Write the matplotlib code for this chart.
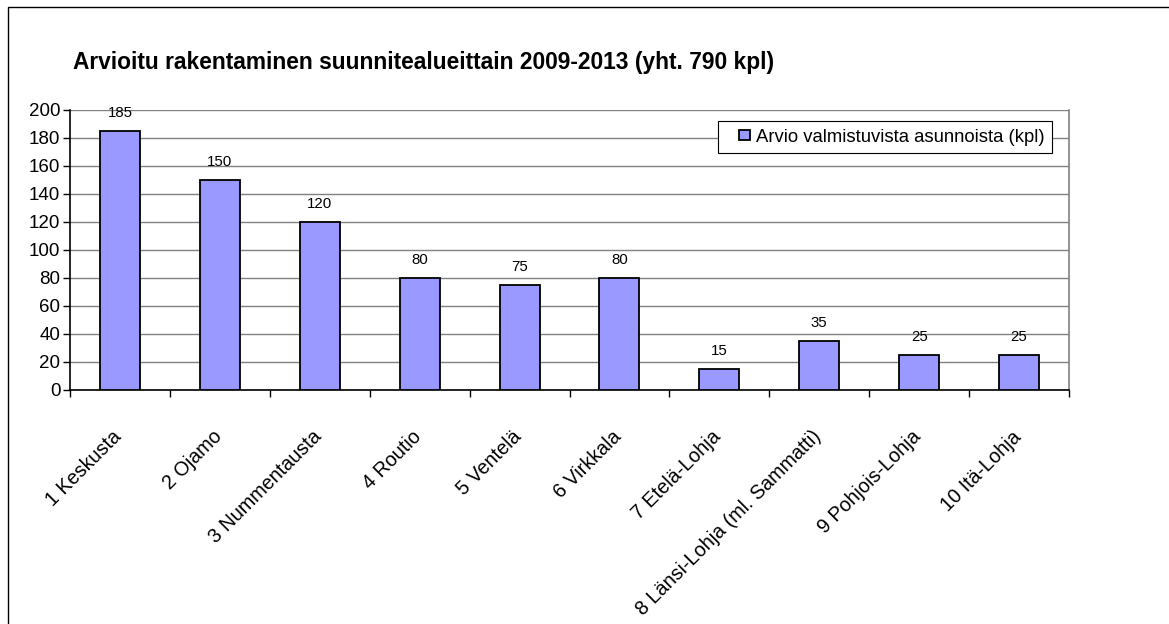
import matplotlib
matplotlib.use("Agg")
import matplotlib.pyplot as plt
from matplotlib.patches import Rectangle
from matplotlib.container import BarContainer
from matplotlib.legend_handler import HandlerPatch, update_from_first_child
from matplotlib.transforms import ScaledTranslation

plt.rcParams["font.family"] = ["Liberation Sans", "DejaVu Sans"]

# --- data ---
areas = [
    "1 Keskusta", "2 Ojamo", "3 Nummentausta", "4 Routio", "5 Ventelä",
    "6 Virkkala", "7 Etelä-Lohja", "8 Länsi-Lohja (ml. Sammatti)",
    "9 Pohjois-Lohja", "10 Itä-Lohja",
]
dwellings = [185, 150, 120, 80, 75, 80, 15, 35, 25, 25]
y_ticks = [0, 20, 40, 60, 80, 100, 120, 140, 160, 180, 200]
title = "Arvioitu rakentaminen suunnitealueittain 2009-2013 (yht. 790 kpl)"
series_name = "Arvio valmistuvista asunnoista (kpl)"

W, H = 1169, 624
fig = plt.figure(figsize=(W / 100, H / 100), dpi=100)

# outer chart frame (right/bottom edges fall outside the image)
fig.patches.append(Rectangle((8 / W, 1 - 7 / H), 2, -2, transform=fig.transFigure,
                             fill=False, edgecolor="black", linewidth=1.0))

# plot area in pixel coords: x 70..1069, y 110..390
ax = fig.add_axes([70 / W, 1 - 390 / H, 999 / W, 280 / H])

x = list(range(len(areas)))
ax.bar(x, dwellings, width=0.4, color="#9999ff", edgecolor="black",
       linewidth=1.3, zorder=3, label=series_name)

for xi, v in zip(x, dwellings):
    ax.annotate(str(v), (xi, v), xytext=(0, 8), textcoords="offset points",
                ha="center", va="bottom", fontsize=10.8, zorder=4)

ax.set_xlim(-0.5, len(areas) - 0.5)
ax.set_ylim(0, 200)
ax.set_yticks(y_ticks)
ax.tick_params(axis="y", labelsize=13.5, length=5, width=1, direction="out", pad=2)
ax.yaxis.grid(True, color="#808080", linewidth=1.0, zorder=0)
ax.set_axisbelow(True)

# category boundary ticks, labels at category centers
ax.set_xticks([i - 0.5 for i in range(len(areas) + 1)])
ax.set_xticklabels([])
ax.tick_params(axis="x", length=5, width=1, direction="out")
ax.set_xticks(x, minor=True)
ax.set_xticklabels(areas, minor=True, rotation=45, ha="right",
                   rotation_mode="anchor", fontsize=14.2)
ax.tick_params(axis="x", which="minor", length=0, pad=26)
shift = ScaledTranslation(-8 / 100, -1 / 100, fig.dpi_scale_trans)
for lab in ax.get_xticklabels(minor=True):
    lab.set_transform(lab.get_transform() + shift)

for side in ("left", "bottom"):
    ax.spines[side].set_color("black")
    ax.spines[side].set_linewidth(1.2)
ax.spines["top"].set_visible(False)
ax.spines["right"].set_color("#808080")
ax.spines["right"].set_linewidth(1.2)


def square_handle(legend, orig_handle, xdescent, ydescent, width, height, fontsize):
    s = height * 0.8
    return Rectangle((-xdescent + width - s, -ydescent + (height - s) / 2), s, s)


leg = ax.legend(loc="upper right", bbox_to_anchor=(0.983, 0.96), fontsize=13.3,
                frameon=True, fancybox=False, edgecolor="black", framealpha=1,
                handlelength=1.3, handleheight=0.7, handletextpad=0.35,
                borderpad=0.4, borderaxespad=0,
                handler_map={BarContainer: HandlerPatch(
                    patch_func=square_handle, update_func=update_from_first_child)})
leg.get_frame().set_linewidth(0.8)

fig.text(73 / W, 1 - 62 / H, title, fontsize=16.4, fontweight="bold",
         ha="left", va="center")

fig.savefig("out.png", dpi=100, facecolor="white")
